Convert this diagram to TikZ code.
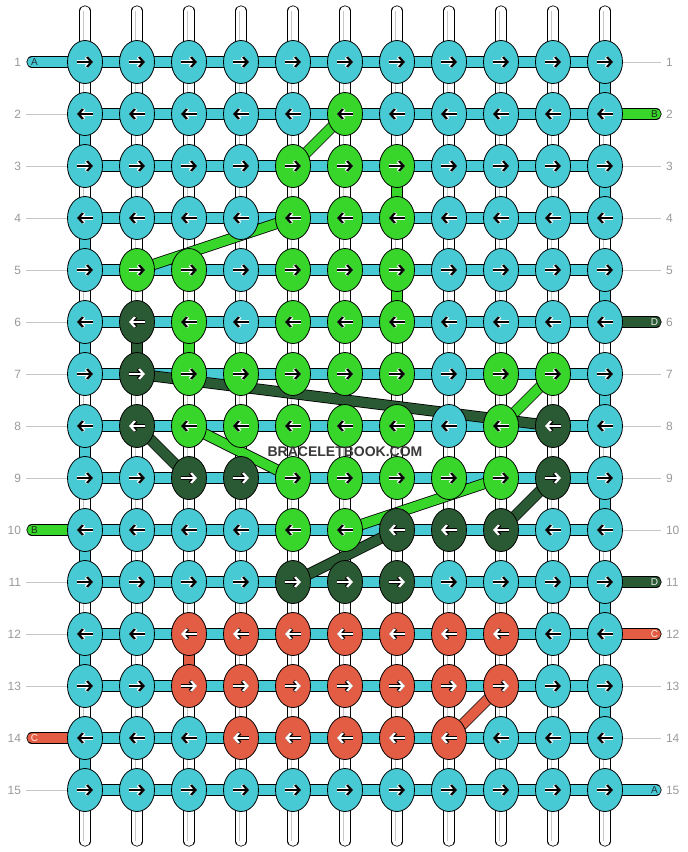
\documentclass[tikz,border=0pt]{standalone}
\usepackage{fontspec}
\setmainfont{Liberation Sans}
\usetikzlibrary{shapes.geometric, arrows.meta}

\definecolor{threadA}{HTML}{48CAD4}
\definecolor{threadB}{HTML}{38D62B}
\definecolor{threadC}{HTML}{E35D45}
\definecolor{threadD}{HTML}{2A5A33}
\definecolor{letterA}{HTML}{1E2E3A}
\definecolor{letterB}{HTML}{1E2E1A}
\definecolor{letterC}{HTML}{FFE8E0}
\definecolor{letterD}{HTML}{F0F0F0}
\definecolor{numgray}{HTML}{9A9A9A}
\definecolor{rulegray}{HTML}{C6C6C6}
\definecolor{brandgray}{HTML}{3A3A3A}

\pgfdeclarelayer{paper}
\pgfdeclarelayer{tubes}
\pgfdeclarelayer{bars}
\pgfdeclarelayer{bands}
\pgfsetlayers{paper,tubes,bars,bands,main}

\tikzset{
	knot/.style={ellipse, draw=black, line width=0.8pt, minimum width=35pt, minimum height=43pt, inner sep=0pt, fill=thread#1},
	tube/.style={draw=black, line width=0.8pt, double=white, double distance=9.6pt, line cap=round},
	tubecore/.style={draw=rulegray, line width=0.6pt, double=white, double distance=3pt},
	bar/.style={draw=black, line width=0.8pt, double=thread#1, double distance=9.6pt},
	stub/.style={bar=#1, line cap=round},
	inkA/.style={black}, inkB/.style={black}, inkC/.style={white}, inkD/.style={white},
	haloA/.style={white}, haloB/.style={white}, haloC/.style={black}, haloD/.style={black},
	glyph/.style={line width=2.2pt, -{Straight Barb[length=4.5pt, width=10pt]}, ink#1},
	halo/.style={line width=3.6pt, -{Straight Barb[length=4.5pt, width=10pt]}, halo#1},
	rownum/.style={inner sep=0pt, outer sep=0pt, text=numgray, font=\fontsize{12}{12}\selectfont},
	rowrule/.style={draw=rulegray, line width=0.8pt},
	tagtext/.style={inner sep=0pt, text=letter#1, font=\fontsize{10}{10}\selectfont},
	brand/.style={inner sep=0pt, text=brandgray, font=\fontsize{14}{14}\selectfont\bfseries}
}

\begin{document}
\begin{tikzpicture}[x=1pt, y=-1pt]
	\useasboundingbox (0,0) rectangle (688,852);
	\begin{pgfonlayer}{paper}
		\fill[white] (0,0) rectangle (688,852);
	\end{pgfonlayer}

	\foreach \r/\row in {
		1/{A,A,A,A,A,A,A,A,A,A,A},
		2/{A,A,A,A,A,B,A,A,A,A,A},
		3/{A,A,A,A,B,B,B,A,A,A,A},
		4/{A,A,A,A,B,B,B,A,A,A,A},
		5/{A,B,B,A,B,B,B,A,A,A,A},
		6/{A,D,B,A,B,B,B,A,A,A,A},
		7/{A,D,B,B,B,B,B,A,B,B,A},
		8/{A,D,B,B,B,B,B,A,B,D,A},
		9/{A,A,D,D,B,B,B,B,B,D,A},
		10/{A,A,A,A,B,B,D,D,D,A,A},
		11/{A,A,A,A,D,D,D,A,A,A,A},
		12/{A,A,C,C,C,C,C,C,C,A,A},
		13/{A,A,C,C,C,C,C,C,C,A,A},
		14/{A,A,A,C,C,C,C,C,A,A,A},
		15/{A,A,A,A,A,A,A,A,A,A,A}} {
		\pgfmathsetmacro\dir{ifthenelse(isodd(\r),1,-1)}
		\foreach \thr [count=\col] in \row {
			\node[knot=\thr] (k-\r-\col) at ({85+52*(\col-1)}, {62+52*(\r-1)}) {};
			\draw[halo=\thr] ([shift={(-8*\dir,0)}]k-\r-\col.center) -- ([shift={(8*\dir,0)}]k-\r-\col.center);
			\draw[glyph=\thr] ([shift={(-8*\dir,0)}]k-\r-\col.center) -- ([shift={(8*\dir,0)}]k-\r-\col.center);
		}
		\node[rownum, anchor=east] (numL-\r) at (21, {62+52*(\r-1)}) {\r};
		\node[rownum, anchor=west] (numR-\r) at (666, {62+52*(\r-1)}) {\r};
	}

	\foreach \col in {1,...,11} {
		\coordinate (top-\col) at ({85+52*(\col-1)}, 11);
		\coordinate (bot-\col) at ({85+52*(\col-1)}, 841);
	}

	\begin{pgfonlayer}{tubes}
		\foreach \col in {1,...,11} {
			\draw[tube] (top-\col) -- (bot-\col);
			\draw[tubecore] (top-\col) -- (bot-\col);
		}
	\end{pgfonlayer}

	\begin{pgfonlayer}{bars}
		\foreach \r in {1,...,15} {
			\foreach \col [count=\nxt from 2] in {1,...,10} {
				\draw[bar=A] (k-\r-\col.center) -- (k-\r-\nxt.center);
			}
		}
		\foreach \r/\col/\thr in {2/1/A, 4/1/A, 6/1/A, 8/1/A, 10/1/A, 12/1/A, 14/1/A,
				1/11/A, 3/11/A, 5/11/A, 7/11/A, 9/11/A, 11/11/A, 13/11/A,
				3/7/B, 5/7/B, 6/3/B, 6/2/D, 12/3/C} {
			\pgfmathtruncatemacro\nxt{\r+1}
			\draw[bar=\thr] (k-\r-\col.center) -- (k-\nxt-\col.center);
		}
		\foreach \r/\thr in {1/A, 10/B, 14/C} {
			\coordinate (endL-\r) at (32, {62+52*(\r-1)});
			\draw[stub=\thr] (endL-\r) -- (k-\r-1.center);
		}
		\foreach \r/\thr in {2/B, 6/D, 11/D, 12/C, 15/A} {
			\coordinate (endR-\r) at (656, {62+52*(\r-1)});
			\draw[stub=\thr] (k-\r-11.center) -- (endR-\r);
		}
	\end{pgfonlayer}

	\begin{pgfonlayer}{bands}
		\foreach \src/\dst/\thr in {2-6/3-5/B, 4-5/5-2/B, 7-10/8-9/B, 8-3/9-5/B, 9-9/10-6/B,
				7-2/8-10/D, 8-2/9-3/D, 9-10/10-9/D, 10-7/11-5/D, 13-9/14-8/C}
			\draw[bar=\thr] (k-\src.center) -- (k-\dst.center);
	\end{pgfonlayer}

	\foreach \r/\thr in {1/A, 10/B, 14/C}
		\node[tagtext=\thr] (tagL-\r) at (34.5, {62+52*(\r-1)}) {\thr};
	\foreach \r/\thr in {2/B, 6/D, 11/D, 12/C, 15/A}
		\node[tagtext=\thr] (tagR-\r) at (654.5, {62+52*(\r-1)}) {\thr};

	\foreach \r in {2,...,9,11,12,13,15}
		\draw[rowrule, shorten <=5pt] (numL-\r) -- (k-\r-1.west);
	\foreach \r in {1,3,4,5,7,8,9,10,13,14}
		\draw[rowrule, shorten >=5pt] (k-\r-11.east) -- (numR-\r);

	\node[brand] (mark) at (345,452) {BRACELETBOOK.COM};
\end{tikzpicture}
\end{document}
